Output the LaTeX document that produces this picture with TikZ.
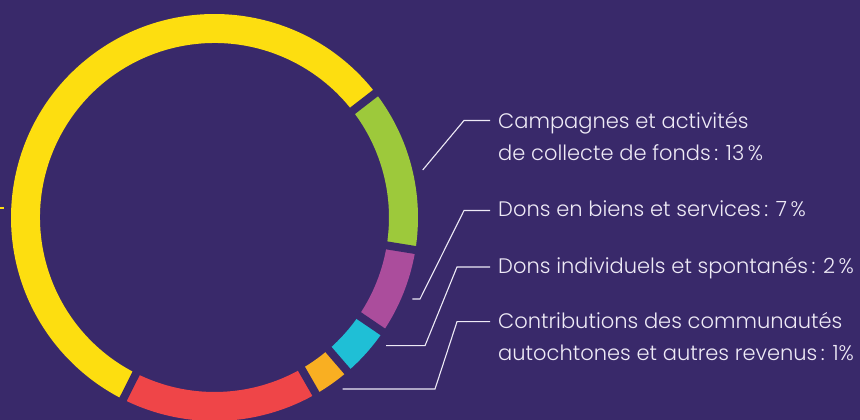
\documentclass[tikz,border=0pt]{standalone}
\usepackage{fontspec}
\setmainfont{Poppins}[UprightFont=* Light]
\usepackage{tikz}

\definecolor{bgpurple}{HTML}{39296A}
\definecolor{ringyellow}{HTML}{FDDE10}
\definecolor{ringgreen}{HTML}{9DC93B}
\definecolor{ringmauve}{HTML}{AB4D9C}
\definecolor{ringcyan}{HTML}{1FBFD6}
\definecolor{ringorange}{HTML}{F9AF22}
\definecolor{ringred}{HTML}{EF4548}
\definecolor{labeltext}{HTML}{EEEAF6}

\begin{document}
\begin{tikzpicture}[x=1pt, y=1pt,
    leader/.style={draw=labeltext, line width=1.1pt, shorten >=8pt},
    lab/.style={anchor=base west, inner sep=0pt, text=labeltext, align=left,
      font=\fontsize{21}{31.7}\selectfont}]
  \fill[bgpurple] (0,0) rectangle (860,420);
  \useasboundingbox (0,0) rectangle (860,420);

  % ring segments, then the gaps between them
  \coordinate (o) at (214.5,202.5);
  \foreach \a/\b/\c in {37.7/243.3/ringyellow, 243.3/299.9/ringred, 299.9/310.8/ringorange,
                        310.8/325.8/ringcyan, 325.8/350.8/ringmauve, 350.8/397.7/ringgreen}
    \fill[\c] (o) ++(\a:203.5) arc (\a:\b:203.5) -- ++(\b:-29) arc (\b:\a:174.5) -- cycle;
  \foreach \g in {37.7,243.3,299.9,310.8,325.8,350.8}
    \draw[bgpurple, line width=8pt] (o) ++(\g:168) -- ++(\g:42);

  % labels (base = baseline of the last line)
  \node[lab] (camp) at (498,259.5) {Campagnes et activités\\de collecte de fonds\,: 13\,\%};
  \node[lab] (bien) at (498,203) {Dons en biens et services\,: 7\,\%};
  \node[lab] (indiv) at (498,146.7) {Dons individuels et spontanés\,: 2\,\%};
  \node[lab] (contrib) at (498,59.3) {Contributions des communautés\\autochtones et autres revenus\,: 1\%};

  % leaders
  \coordinate (campin) at (422.7,250);
  \coordinate (campk) at (464,299.5);
  \coordinate (bienin) at (412.3,121);
  \coordinate (bienk) at (464,209.5);
  \coordinate (indivin) at (386,74.3);
  \coordinate (indivk) at (457,153);
  \coordinate (contribin) at (342.7,31);
  \coordinate (contribk) at (457,98.3);
  \draw[leader] (campin) -- (campk) -- (campk -| camp.west);
  \draw[leader] (bienin) -- ++(7.7,0) -- (bienk) -- (bienk -| bien.west);
  \draw[leader] (indivin) -- ++(39,0) -- (indivk) -- (indivk -| indiv.west);
  \draw[leader] (contribin) -- ++(92.3,0) -- (contribk) -- (contribk -| contrib.west);

  % leader of the yellow part, cut by the edge
  \coordinate (yellowk) at (0,212);
  \draw[ringyellow, line width=1.1pt] (yellowk) -- ++(4,0);
\end{tikzpicture}
\end{document}
